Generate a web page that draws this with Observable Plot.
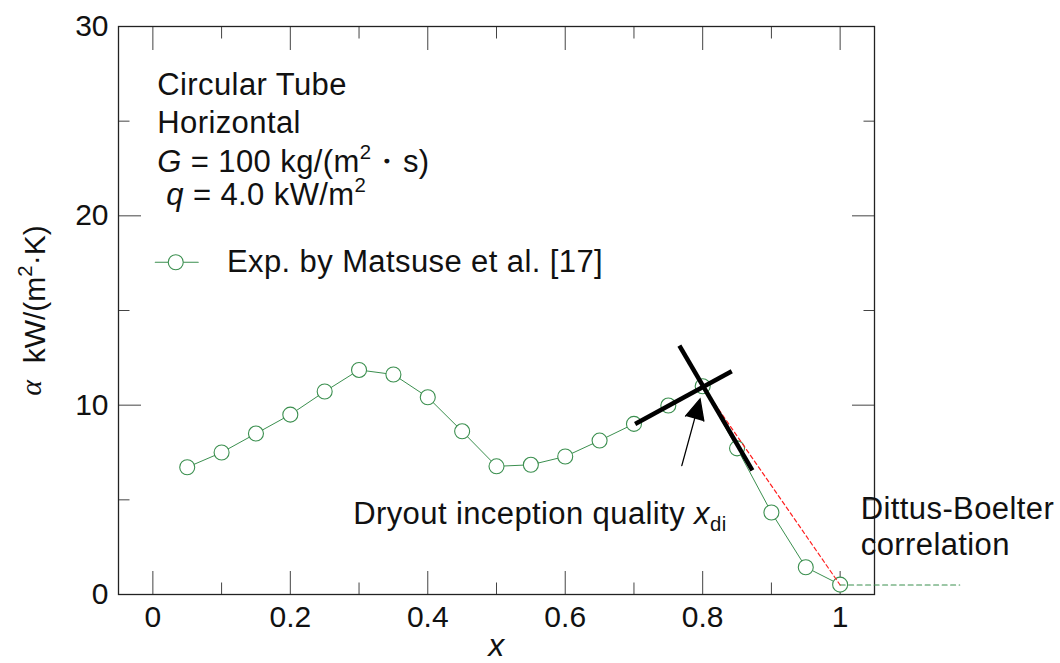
<!DOCTYPE html>
<html><head><meta charset="utf-8">
<script src="https://cdn.jsdelivr.net/npm/d3@7"></script>
<script src="https://cdn.jsdelivr.net/npm/@observablehq/plot@0.6"></script>
<style>
html,body{margin:0;padding:0;background:#fff;}
#chart svg text{white-space:pre;}
</style></head><body><div id="chart"></div>
<script>
// ---- data ----
const quality = [0.05,0.10,0.15,0.20,0.25,0.30,0.35,0.40,0.45,0.50,0.55,0.60,0.65,0.70,0.75,0.80,0.85,0.90,0.95,1.00];
const htc     = [6.72,7.50,8.50,9.50,10.72,11.86,11.62,10.42,8.62,6.77,6.85,7.29,8.13,9.01,9.98,11.0,7.72,4.33,1.44,0.52];
const seriesName = "Exp. by Matsuse et al. [17]";

// red dashed guide from dryout inception to Dittus-Boelter value
const guideX = [0.80, 1.00];
const guideY = [11.0, 0.5];
// Dittus-Boelter level (green dashed)
const dbX = [1.00, 1.174];
const dbY = [0.5, 0.5];
// tangent lines (thick black)
const tangents = [
  {x1:0.7017, y1:9.01,  x2:0.8423, y2:11.79},
  {x1:0.7661, y1:13.15, x2:0.8723, y2:6.55}
];
// arrow pointing at x_di
const arrowSpec = [{x1:0.7696, y1:6.81, x2:0.7962, y2:10.33}];

// axes
const xMajor = [0, 0.2, 0.4, 0.6, 0.8, 1];
const xMajorLabels = ["0", "0.2", "0.4", "0.6", "0.8", "1"];
const xMinor = [0.1, 0.3, 0.5, 0.7, 0.9];
const yMajor = [0, 10, 20, 30];
const yMajorLabels = ["0", "10", "20", "30"];
const yMinor = [5, 15, 25];
const xTitle = "<i>x</i>";
const yTitle = "<a>α</a>  kW/(m<sup>2</sup>·K)";

// annotations (data coordinates)
const notes = [
  {text:"Circular Tube", x:0.0064, y:26.4},
  {text:"Horizontal", x:0.0064, y:24.37},
  {text:"<i>G</i> = 100 kg/(m<sup>2</sup>・s)", x:0.0064, y:22.33},
  {text:" <i>q</i> = 4.0 kW/m<sup>2</sup>", x:0.0064, y:20.59},
  {text:"Dryout inception quality <i>x</i><sub>di</sub>", x:0.2915, y:3.75},
  {text:"Dittus-Boelter", x:1.030, y:4.01},
  {text:"correlation", x:1.030, y:2.06},
  {text:seriesName, x:0.1078, y:17.02}
];
const legendLineX = [0.0035, 0.066];
const legendDotX = [0.0333];
const legendY = 17.55;

// ---- layout ----
const W = 1060, H = 663;
const mL = 118, mR = 186, mT = 26, mB = 69;
const xDom = [-0.05, 1.05], yDom = [0, 30];
const green = "#3b8f4f";
const font = "'Liberation Sans', Arial, sans-serif";

const pts = quality.map((x, i) => ({x, y: htc[i]}));
const seg = (xs, ys) => xs.map((x, i) => ({x, y: ys[i]}));

const tickStroke = "#444";
const tickAxis = (fn, data, anchor, size) => fn(data, {anchor, tickSize: -size, fill: "none", stroke: tickStroke, strokeWidth: 1, label: null});

const svg = Plot.plot({
  width: W, height: H,
  marginLeft: mL, marginRight: mR, marginTop: mT, marginBottom: mB,
  style: {fontFamily: font, fontSize: "30px", background: "#fff", color: "#111"},
  x: {domain: xDom},
  y: {domain: yDom},
  marks: [
    tickAxis(Plot.axisX, xMajor, "bottom", 23),
    tickAxis(Plot.axisX, xMinor, "bottom", 11.5),
    tickAxis(Plot.axisX, xMajor, "top", 23),
    tickAxis(Plot.axisX, xMinor, "top", 11.5),
    tickAxis(Plot.axisY, yMajor, "left", 23),
    tickAxis(Plot.axisY, yMinor, "left", 11.5),
    tickAxis(Plot.axisY, yMajor, "right", 23),
    tickAxis(Plot.axisY, yMinor, "right", 11.5),
    Plot.axisX(xMajor, {anchor: "bottom", tickSize: 0, tickPadding: 11, fontSize: 30, fill: "#111",
      tickFormat: d => xMajorLabels[xMajor.indexOf(d)], label: null}),
    Plot.axisY(yMajor, {anchor: "left", tickSize: 0, tickPadding: 10, fontSize: 30, fill: "#111",
      tickFormat: d => yMajorLabels[yMajor.indexOf(d)], label: null}),
    Plot.frame({stroke: "#222", strokeWidth: 1.3}),

    // data series
    Plot.line(pts, {x: "x", y: "y", stroke: green, strokeWidth: 1}),
    Plot.dot(pts, {x: "x", y: "y", r: 7.5, stroke: green, strokeWidth: 1.1, fill: "#fff"}),

    // guides
    Plot.line(seg(guideX, guideY), {x: "x", y: "y", stroke: "#ff2020", strokeWidth: 1.2, strokeDasharray: "4,3"}),
    Plot.line(seg(dbX, dbY), {x: "x", y: "y", stroke: green, strokeWidth: 1.1, strokeDasharray: "5,3.5"}),
    Plot.link(tangents, {x1: "x1", y1: "y1", x2: "x2", y2: "y2", stroke: "#000", strokeWidth: 4.5}),
    Plot.arrow(arrowSpec, {x1: "x1", y1: "y1", x2: "x2", y2: "y2", stroke: "#000", fill: "#000",
      strokeWidth: 1.3, headLength: 26, headAngle: 50, strokeMiterlimit: 10}),

    // legend
    Plot.line(legendLineX.map(x => ({x, y: legendY})), {x: "x", y: "y", stroke: green, strokeWidth: 1.1}),
    Plot.dot(legendDotX.map(x => ({x, y: legendY})), {x: "x", y: "y", r: 7.5, stroke: green, strokeWidth: 1.1, fill: "#fff"}),

    // annotations
    Plot.text(notes, {x: "x", y: "y", text: "text", textAnchor: "start", lineAnchor: "bottom", fontSize: 31, fill: "#111"}),

    // axis titles
    Plot.text([xTitle], {x: () => 0.5, text: d => d, frameAnchor: "bottom", dy: 61, lineAnchor: "bottom", fontSize: 32, fill: "#111"}),
    Plot.text([yTitle], {y: () => 10.5, text: d => d, frameAnchor: "left", dx: -74, rotate: -90,
      textAnchor: "start", lineAnchor: "bottom", fontSize: 30, fill: "#111"})
  ]
});

// rich text: <i>, <sup>, <sub>, <a> (serif italic alpha)
function richify(el) {
  const src = el.textContent;
  if (!src.includes("<")) return;
  const fs = parseFloat(getComputedStyle(el).fontSize) || 30;
  while (el.firstChild) el.removeChild(el.firstChild);
  const re = /<(i|sup|sub|a)>(.*?)<\/\1>|([^<]+)/g;
  let m, pending = 0;
  const ns = "http://www.w3.org/2000/svg";
  while ((m = re.exec(src))) {
    const t = document.createElementNS(ns, "tspan");
    let shift = 0;
    if (m[3] !== undefined) {
      t.textContent = m[3];
    } else {
      t.textContent = m[2];
      if (m[1] === "i") t.setAttribute("font-style", "italic");
      if (m[1] === "sup") { t.setAttribute("font-size", (0.68 * fs) + "px"); shift = -0.42 * fs; }
      if (m[1] === "sub") { t.setAttribute("font-size", (0.68 * fs) + "px"); shift = 0.24 * fs; }
      if (m[1] === "a") { t.setAttribute("font-family", "'Liberation Serif', 'DejaVu Serif', serif"); t.setAttribute("font-style", "italic"); shift = -0.13 * fs; }
    }
    const dy = shift - pending;
    if (dy) t.setAttribute("dy", dy);
    pending = shift;
    el.appendChild(t);
  }
}
svg.querySelectorAll("text").forEach(el => {
  if (el.closest("[aria-label='text']") && !el.textContent.includes("α")) el.setAttribute("letter-spacing", "0.4");
  richify(el);
});
document.getElementById("chart").appendChild(svg);
</script>
</body></html>
